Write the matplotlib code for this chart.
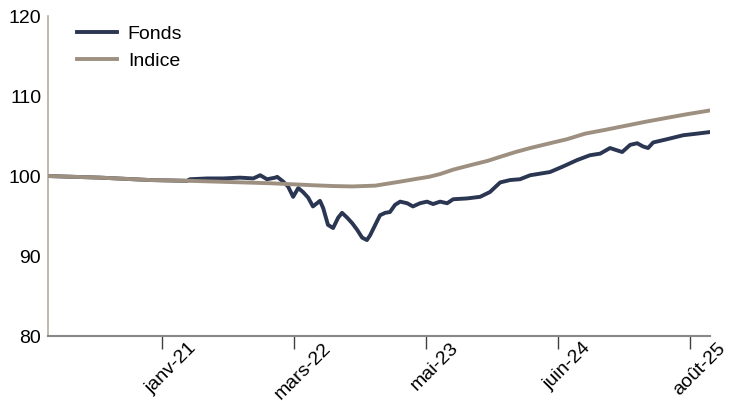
import matplotlib
matplotlib.use("Agg")
import matplotlib.pyplot as plt
import matplotlib.transforms as mtransforms
import pandas as pd

plt.rcParams['font.family'] = ['Liberation Sans', 'DejaVu Sans']

# Indice (smooth benchmark)
idx_dates = ["2020-02-03", "2020-07-15", "2020-12-18", "2021-04-22", "2021-08-26",
             "2021-12-29", "2022-05-12", "2022-07-14", "2022-09-12", "2022-11-23",
             "2023-02-09", "2023-03-03", "2023-04-01", "2023-05-10", "2023-06-14",
             "2023-07-25", "2023-09-16", "2023-11-10", "2023-12-19", "2024-02-05",
             "2024-03-22", "2024-05-23", "2024-07-15", "2024-09-10", "2024-11-15",
             "2025-01-29", "2025-03-20", "2025-06-10", "2025-07-29", "2025-10-06"]
idx_vals = [100.0, 99.8, 99.5, 99.4, 99.25,
            99.1, 98.85, 98.75, 98.7, 98.8,
            99.3, 99.45, 99.65, 99.9, 100.25,
            100.8, 101.35, 101.9, 102.4, 103.0,
            103.5, 104.1, 104.6, 105.3, 105.8,
            106.4, 106.8, 107.4, 107.75, 108.2]

# Fonds
fund_dates = ["2020-02-03", "2020-07-15", "2020-12-18", "2021-04-13", "2021-04-22",
              "2021-06-15", "2021-08-04", "2021-09-26", "2021-11-06", "2021-11-28",
              "2021-12-19", "2022-01-14", "2022-01-20", "2022-02-08", "2022-02-23",
              "2022-03-11", "2022-03-27", "2022-04-11", "2022-04-27", "2022-05-12",
              "2022-06-03", "2022-06-13", "2022-06-28", "2022-07-14", "2022-07-30",
              "2022-08-11", "2022-08-27", "2022-09-12", "2022-09-27", "2022-10-13",
              "2022-10-28", "2022-11-07", "2022-11-23", "2022-12-08", "2022-12-24",
              "2023-01-08", "2023-01-24", "2023-02-09", "2023-03-03", "2023-03-21",
              "2023-04-12", "2023-05-04", "2023-05-23", "2023-06-14", "2023-07-06",
              "2023-07-25", "2023-09-06", "2023-10-17", "2023-11-17", "2023-12-19",
              "2024-01-19", "2024-02-19", "2024-03-22", "2024-04-22", "2024-05-23",
              "2024-07-03", "2024-08-16", "2024-09-25", "2024-10-27", "2024-11-27",
              "2025-01-04", "2025-01-29", "2025-02-20", "2025-03-10", "2025-03-26",
              "2025-04-11", "2025-05-24", "2025-07-14", "2025-08-26", "2025-10-06"]
fund_vals = [100.0, 99.8, 99.5, 99.4, 99.6,
             99.7, 99.7, 99.8, 99.7, 100.1,
             99.6, 99.8, 99.9, 99.3, 98.7,
             97.4, 98.5, 98.0, 97.3, 96.2,
             96.9, 96.0, 93.9, 93.5, 94.8,
             95.4, 94.8, 94.1, 93.3, 92.3,
             92.0, 92.6, 93.9, 95.1, 95.4,
             95.5, 96.4, 96.8, 96.6, 96.2,
             96.6, 96.8, 96.5, 96.8, 96.6,
             97.1, 97.2, 97.4, 98.0, 99.2,
             99.5, 99.6, 100.1, 100.3, 100.5,
             101.2, 102.0, 102.6, 102.8, 103.5,
             103.0, 103.9, 104.1, 103.7, 103.5,
             104.2, 104.6, 105.1, 105.3, 105.5]

tick_dates = ["2021-01-25", "2022-03-14", "2023-05-01", "2024-06-17", "2025-08-05"]
tick_labels = ["janv-21", "mars-22", "mai-23", "juin-24", "août-25"]

fund_c = "#2b3652"
idx_c = "#9e9080"
fs = 14

fig = plt.figure(figsize=(7.29, 4.01), dpi=100)
ax = fig.add_axes([0.066, 0.162, 0.908, 0.798])

ax.plot(pd.to_datetime(fund_dates), fund_vals, color=fund_c, lw=2.8, label="Fonds", zorder=2)
ax.plot(pd.to_datetime(idx_dates), idx_vals, color=idx_c, lw=2.8, label="Indice", zorder=3)

ax.set_xlim(pd.Timestamp("2020-02-03"), pd.Timestamp("2025-10-06"))
ax.set_ylim(80, 120)
ax.set_yticks([80, 90, 100, 110, 120])
ax.set_xticks(pd.to_datetime(tick_dates))
ax.set_xticklabels(tick_labels, rotation=45, ha="center", va="top")

ax.tick_params(axis="y", length=0, labelsize=fs, pad=5)
ax.tick_params(axis="x", length=9, width=1, color="#404040", labelsize=fs, pad=0, direction="out")

# shift rotated labels right / up like the original
shift = mtransforms.ScaledTranslation(9 / 100, 9 / 100, fig.dpi_scale_trans)
for lab in ax.get_xticklabels():
    lab.set_transform(lab.get_transform() + shift)

for s in ["top", "right"]:
    ax.spines[s].set_visible(False)
ax.spines["left"].set_color("#b8ad9f")
ax.spines["left"].set_linewidth(1.2)
ax.spines["bottom"].set_color("#888888")
ax.spines["bottom"].set_linewidth(1.5)

leg = ax.legend(loc="upper left", frameon=False, fontsize=fs, handlelength=2.05,
                bbox_to_anchor=(0.017, 1.025), labelspacing=0.48, handletextpad=0.57)

fig.savefig("out.png", dpi=100)
